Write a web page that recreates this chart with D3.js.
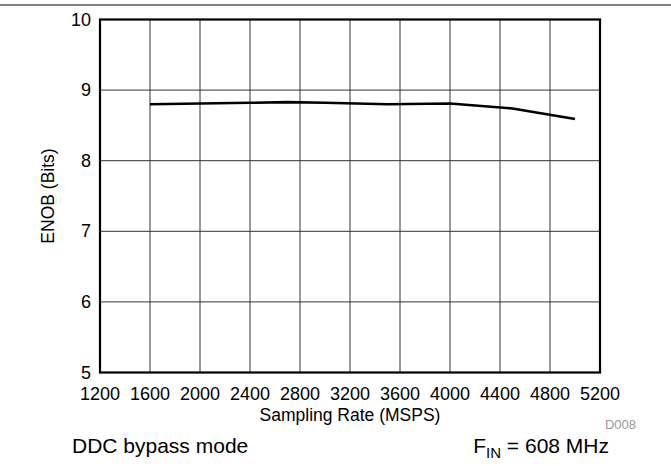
<!DOCTYPE html>
<html>
<head>
<meta charset="utf-8">
<script src="https://cdn.jsdelivr.net/npm/d3@7"></script>
<style>
  html, body { margin: 0; padding: 0; background: #fff; }
  svg { display: block; }
  text { font-family: Arial, "Liberation Sans", sans-serif; }
</style>
</head>
<body>
<script>
const samplingRate = [1600, 2000, 2400, 2700, 3000, 3500, 4000, 4500, 5000];
const enob = [8.80, 8.81, 8.82, 8.83, 8.82, 8.80, 8.81, 8.74, 8.59];
const xTicks = [1200, 1600, 2000, 2400, 2800, 3200, 3600, 4000, 4400, 4800, 5200];
const yTicks = [5, 6, 7, 8, 9, 10];

const W = 671, H = 466;
const L = 100, R = 600, T = 19.5, B = 372.5;

const svg = d3.select("body").append("svg").attr("width", W).attr("height", H);

const x = d3.scaleLinear().domain([1200, 5200]).range([L, R]);
const y = d3.scaleLinear().domain([5, 10]).range([B, T]);

// top rule
svg.append("line").attr("x1", 0).attr("x2", W).attr("y1", 5).attr("y2", 5)
  .attr("stroke", "#000").attr("stroke-width", 1.2);

// grid
svg.append("g").selectAll("line").data(xTicks.slice(1, -1)).join("line")
  .attr("x1", d => x(d)).attr("x2", d => x(d)).attr("y1", T).attr("y2", B)
  .attr("stroke", "#333").attr("stroke-width", 1);
svg.append("g").selectAll("line").data(yTicks.slice(1, -1)).join("line")
  .attr("x1", L).attr("x2", R).attr("y1", d => y(d)).attr("y2", d => y(d))
  .attr("stroke", "#333").attr("stroke-width", 1);

// frame
svg.append("rect").attr("x", L).attr("y", T).attr("width", R - L).attr("height", B - T)
  .attr("fill", "none").attr("stroke", "#000").attr("stroke-width", 2.2);

// data line
const pts = samplingRate.map((d, i) => [d, enob[i]]);
svg.append("path").datum(pts)
  .attr("d", d3.line().x(d => x(d[0])).y(d => y(d[1])))
  .attr("fill", "none").attr("stroke", "#000").attr("stroke-width", 2.6)
  .attr("stroke-linejoin", "round");

// x tick labels
svg.append("g").selectAll("text").data(xTicks).join("text")
  .attr("x", d => x(d)).attr("y", 400).attr("text-anchor", "middle")
  .attr("font-size", 18).attr("fill", "#000").text(d => d);

// y tick labels
svg.append("g").selectAll("text").data(yTicks).join("text")
  .attr("x", 91).attr("y", d => y(d) + 6).attr("text-anchor", "end")
  .attr("font-size", 18).attr("fill", "#000").text(d => d);

// axis titles
svg.append("text").attr("x", 350).attr("y", 421).attr("text-anchor", "middle")
  .attr("font-size", 17.5).text("Sampling Rate (MSPS)");
svg.append("text").attr("transform", `translate(54,${(T + B) / 2}) rotate(-90)`)
  .attr("text-anchor", "middle").attr("font-size", 17.5).text("ENOB (Bits)");

// figure id
svg.append("text").attr("x", 636).attr("y", 429).attr("text-anchor", "end")
  .attr("font-size", 13).attr("fill", "#999").text("D008");

// bottom notes
svg.append("text").attr("x", 72).attr("y", 453).attr("font-size", 21).text("DDC bypass mode");
const f = svg.append("text").attr("x", 609).attr("y", 453).attr("text-anchor", "end").attr("font-size", 21);
f.append("tspan").text("F");
f.append("tspan").attr("font-size", 15).attr("dy", 5).text("IN");
f.append("tspan").attr("dy", -5).text(" = 608 MHz");
</script>
</body>
</html>
